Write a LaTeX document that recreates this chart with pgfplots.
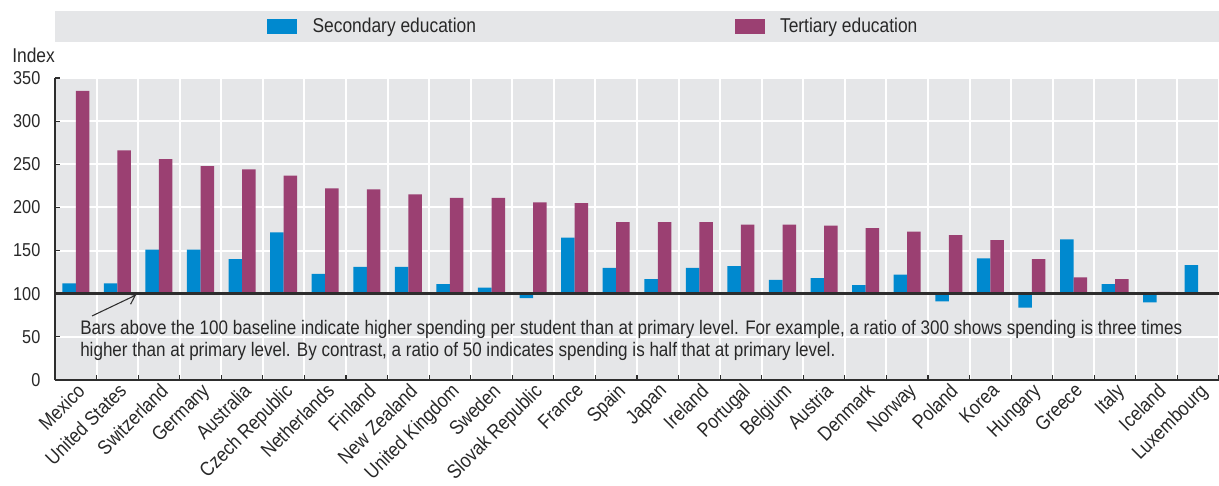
\documentclass[border=0pt]{standalone}
\usepackage{pgfplots}
\pgfplotsset{compat=1.18}
\usetikzlibrary{arrows.meta}
\usepackage{fontspec}
\setmainfont{Liberation Sans}[FakeStretch=0.87]
\definecolor{secblue}{RGB}{0,137,207}
\definecolor{terpurple}{RGB}{155,64,114}
\definecolor{bggrey}{RGB}{229,230,232}
\definecolor{axisdark}{RGB}{45,45,45}
\definecolor{txt}{RGB}{40,40,40}
\begin{document}
\begin{tikzpicture}[font=\fontsize{15}{18}\selectfont\color{txt}]
\useasboundingbox (-41.25pt,-78.75pt) rectangle (873pt,285pt);
\fill[bggrey] (0pt,253.5pt) rectangle (873pt,276.75pt);
\begin{axis}[
  at={(0pt,0pt)}, anchor=south west,
  scale only axis, width=873pt, height=226.5pt,
  axis background/.style={fill=bggrey},
  axis lines*=left,
  axis line style={axisdark, line width=1.2pt},
  xmin=-0.5, xmax=27.5,
  ymin=-100, ymax=250,
  y filter/.expression={y-100},
  ytick={-100,-50,0,50,100,150,200,250},
  yticklabels={0,50,100,150,200,250,300,350},
  ymajorgrids,
  major grid style={white, line width=1.5pt},
  ytick style={axisdark, line width=0.8pt},
  major tick length=4pt,
  tick align=inside,
  xtick={-0.5,0.5,...,27.5},
  xticklabels={},
  xmajorgrids,
  xtick style={axisdark, line width=0.8pt},
  extra x ticks={0,1,...,27},
  extra x tick labels={Mexico,United States,Switzerland,Germany,Australia,Czech Republic,Netherlands,Finland,New Zealand,United Kingdom,Sweden,Slovak Republic,France,Spain,Japan,Ireland,Portugal,Belgium,Austria,Denmark,Norway,Poland,Korea,Hungary,Greece,Italy,Iceland,Luxembourg},
  extra x tick style={grid=none, major tick length=0pt},
  xticklabel style={rotate=45, anchor=north east, inner sep=1pt, font=\fontsize{15}{18}\selectfont\color{txt}},
  yticklabel style={font=\fontsize{14}{17}\selectfont\color{txt}, xshift=-7.5pt},
  /pgf/number format/assume math mode=true,
  legend columns=2,
  legend style={at={(rel axis cs:0.1821,1.17)}, anchor=west, draw=none, fill=none, inner sep=0pt,
    font=\fontsize{15}{18}\selectfont\color{txt},
    /tikz/every even column/.append style={column sep=192pt}},
  legend image code/.code={\fill[#1] (0pt,-5.6pt) rectangle (22.5pt,5.6pt);},
  clip=false,
]
\addplot[ybar, bar width=0.325, bar shift=-0.1625, fill=secblue, draw=none] coordinates {
(0,112) (1,112) (2,151) (3,151) (4,140) (5,171) (6,123) (7,131) (8,131) (9,111)
(10,107) (11,95) (12,165) (13,130) (14,117) (15,130) (16,132) (17,116) (18,118) (19,110)
(20,122) (21,91) (22,141) (23,84) (24,163) (25,111) (26,90) (27,133)};
\addlegendentry{\hspace{9.5pt}Secondary education}
\addplot[ybar, bar width=0.325, bar shift=0.1625, fill=terpurple, draw=none] coordinates {
(0,335) (1,266) (2,256) (3,248) (4,244) (5,237) (6,222) (7,221) (8,215) (9,211)
(10,211) (11,206) (12,205) (13,183) (14,183) (15,183) (16,180) (17,180) (18,179) (19,176)
(20,172) (21,168) (22,162) (23,140) (24,119) (25,117) (26,102)};
\addlegendentry{\hspace{9.5pt}Tertiary education}
\draw[axisdark, line width=2pt] (rel axis cs:0,0.2857) -- (rel axis cs:1,0.2857);
\draw[axisdark, line width=0.8pt, -{Straight Barb[length=6pt,width=9pt]}] (rel axis cs:0.0318,0.212) -- (rel axis cs:0.0696,0.2814);
\end{axis}
\begin{scope}[font=\fontsize{14.7}{17}\selectfont\color{txt}]
\node[anchor=base west, inner sep=0pt] at (18.75pt,34.1pt) {Bars above the 100 baseline indicate higher spending per student than at primary level. For example, a ratio of 300 shows spending is three times};
\node[anchor=base west, inner sep=0pt] at (18.75pt,17.25pt) {higher than at primary level. By contrast, a ratio of 50 indicates spending is half that at primary level.};
\end{scope}
\node[anchor=west, inner sep=0pt] at (-32.25pt,243.75pt) {Index};
\end{tikzpicture}
\end{document}
